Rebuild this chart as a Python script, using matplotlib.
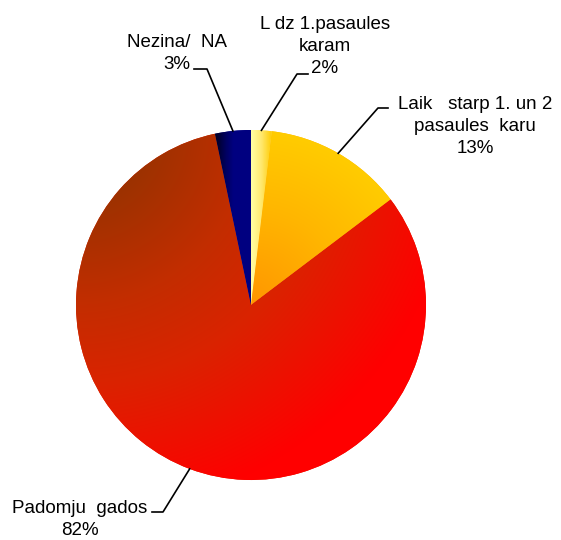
import matplotlib
matplotlib.use("Agg")
import matplotlib.pyplot as plt
import numpy as np

# Slices, clockwise from 12 o'clock
categories = [
    "L dz 1.pasaules\nkaram",
    "Laik   starp 1. un 2\npasaules  karu",
    "Padomju  gados",
    "Nezina/  NA",
]
shares = [1.9, 12.8, 82.0, 3.3]

plt.rcParams["font.family"] = ["Liberation Sans", "DejaVu Sans"]

W, H = 561, 540
CX, CY, R = 251, 305, 175  # pie centre / radius in pixels


def to_data(x, y):
    """Pixel position (origin top-left) -> pie data coords."""
    return (x - CX) / R, (CY - y) / R


# label layout in pixels: text anchor (centre x, last baseline), elbow, end of leader
label_anchor = [(325, 73), (475, 153), (80, 535), (177, 69)]
leader_elbow = [(297, 74), (378, 108), (163, 512), (207, 69)]
leader_end = [(308, 74), (388, 108), (152, 512), (194, 69)]

fig = plt.figure(figsize=(W / 100, H / 100), dpi=100)
ax = fig.add_axes([(CX - R) / W, (H - CY - R) / H, 2 * R / W, 2 * R / H])

wedges, _ = ax.pie(
    shares,
    startangle=90,
    counterclock=False,
    radius=1,
    colors=["#FFE680", "#FFB400", "#E02000", "#000080"],
    wedgeprops=dict(linewidth=0),
)
ax.set_xlim(-1, 1)
ax.set_ylim(-1, 1)
ax.axis("off")

# gradient fills clipped to each wedge
n = 600
g = np.linspace(-1, 1, n)
X, Y = np.meshgrid(g, g)


def ramp(t, stops):
    pos = [p for p, _ in stops]
    img = np.zeros(t.shape + (3,))
    for c in range(3):
        img[..., c] = np.interp(t, pos, [col[c] / 255 for _, col in stops])
    return img


fills = [
    ramp(X, [(0.0, (255, 255, 165)), (0.06, (255, 232, 110)), (0.12, (255, 204, 0))]),
    ramp(np.hypot(X, Y), [(0.0, (255, 150, 0)), (0.55, (255, 182, 0)), (1.0, (255, 204, 0))]),
    ramp(np.hypot(X + 1, Y - 1), [(0.4, (155, 50, 0)), (1.0, (195, 45, 0)),
                                   (1.45, (218, 35, 0)), (2.2, (255, 0, 0))]),
    ramp(X, [(-0.21, (0, 0, 25)), (-0.14, (0, 0, 100)), (-0.1, (0, 0, 128))]),
]
for w, img in zip(wedges, fills):
    im = ax.imshow(img, origin="lower", extent=(-1, 1, -1, 1), interpolation="bilinear", zorder=2)
    im.set_clip_path(w)

# labels with leader lines
cum = np.cumsum(shares) - np.array(shares) / 2
mid = np.radians(90 - 3.6 * cum)
for i, (cat, s) in enumerate(zip(categories, shares)):
    ex, ey = np.cos(mid[i]), np.sin(mid[i])
    bx, by = to_data(*leader_elbow[i])
    fx, fy = to_data(*leader_end[i])
    ax.plot([ex, bx, fx], [ey, by, fy], color="black", lw=1.2, clip_on=False, zorder=3)
    tx, ty = to_data(*label_anchor[i])
    ax.text(tx, ty, f"{cat}\n{s:.0f}%", ha="center", va="baseline",
            multialignment="center", fontsize=13.5, linespacing=1.38, clip_on=False)

fig.savefig("out.png", dpi=100, facecolor="white")
